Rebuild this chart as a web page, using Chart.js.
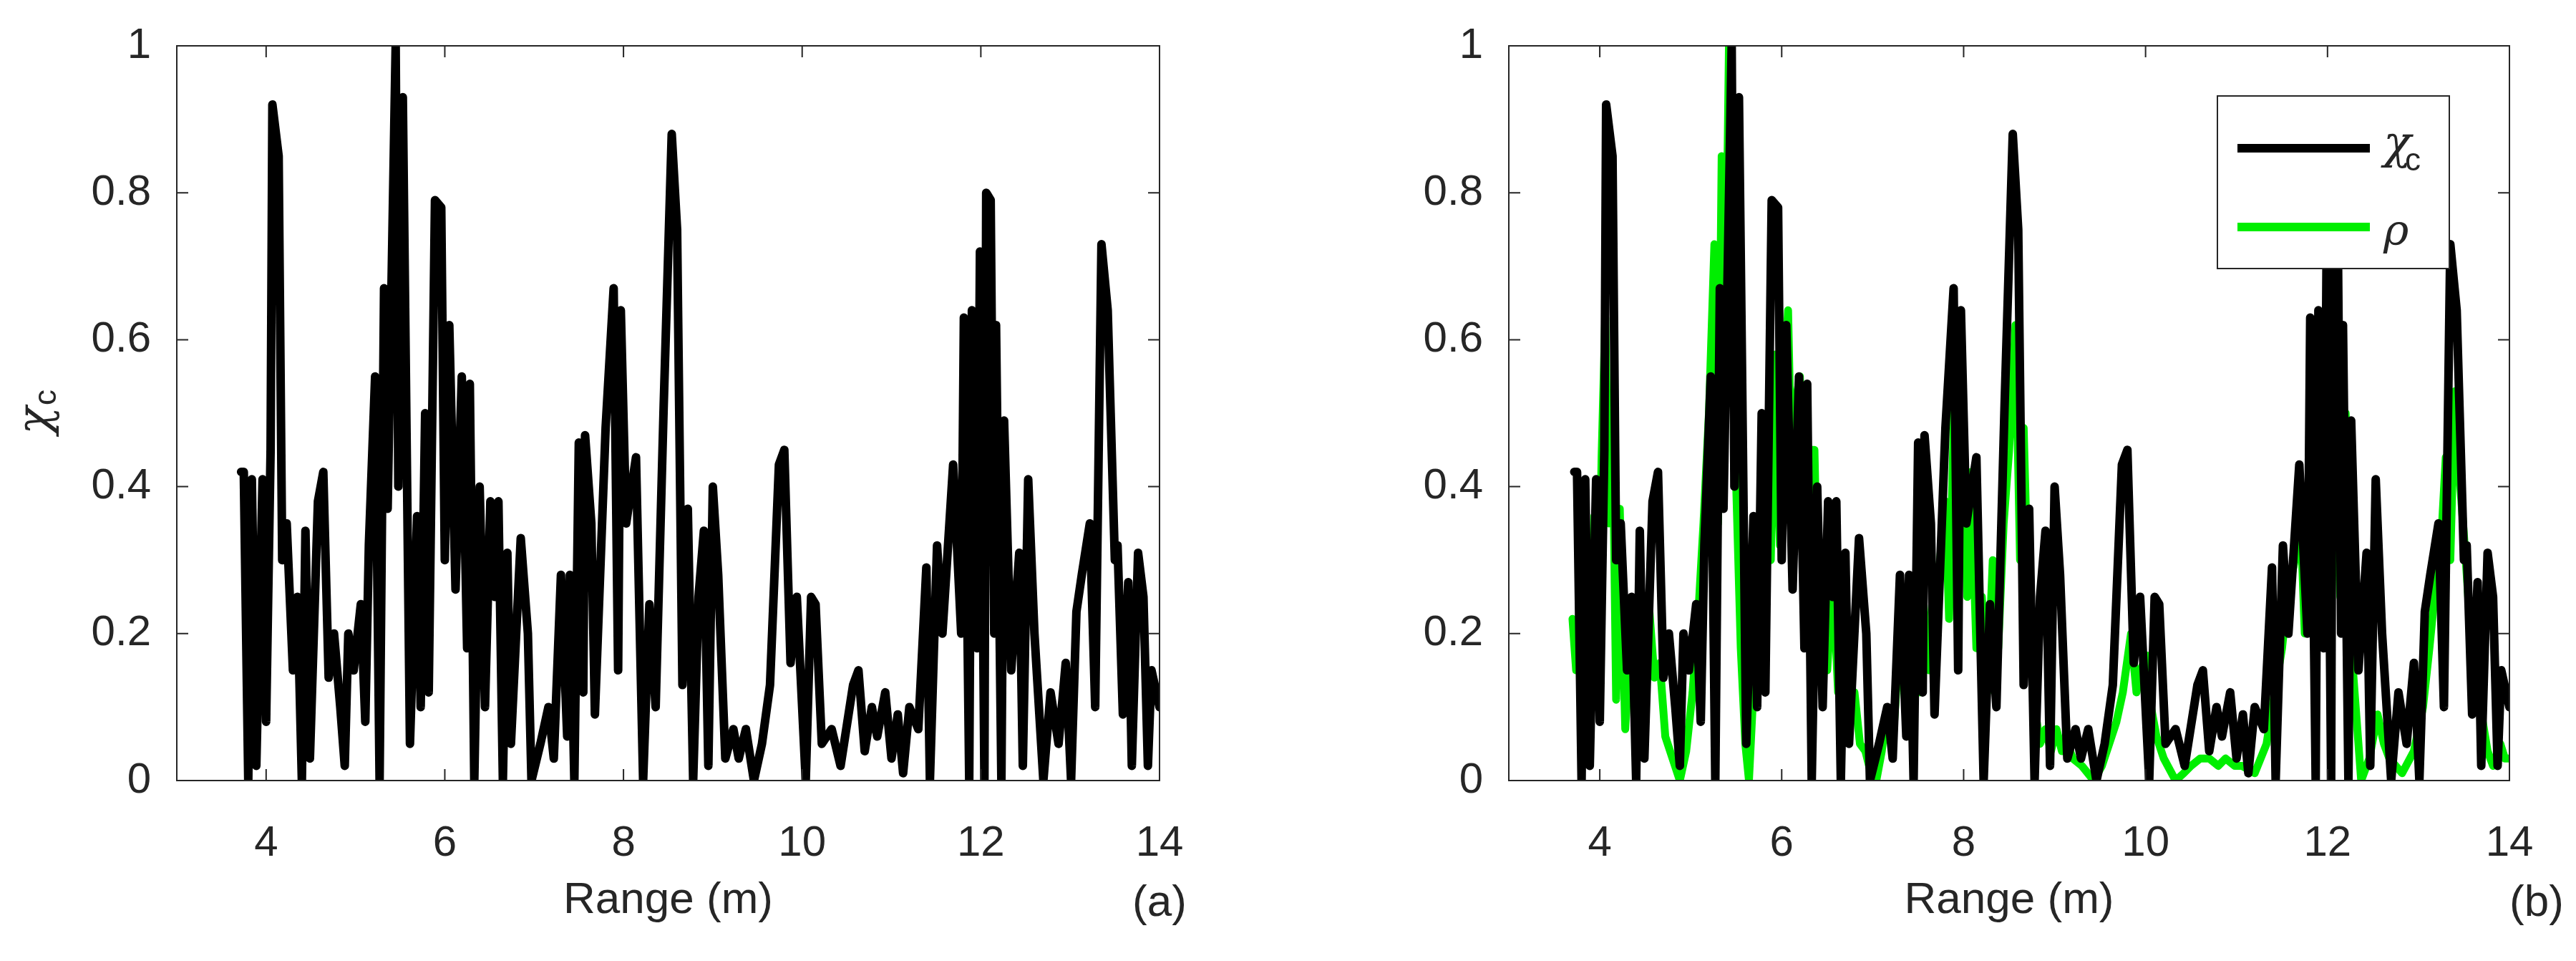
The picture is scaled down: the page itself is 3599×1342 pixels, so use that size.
<!DOCTYPE html>
<html>
<head>
<meta charset="utf-8">
<script src="https://cdn.jsdelivr.net/npm/chart.js@4.4.1/dist/chart.umd.min.js"></script>
<style>
  body { margin: 0; background: #fff; }
  .panel { position: absolute; top: 0; width: 1800px; height: 1342px; }
</style>
</head>
<body>
<div class="panel" style="left:0"><canvas id="chartA" width="1800" height="1342"></canvas></div>
<div class="panel" style="left:1800px"><canvas id="chartB" width="1799" height="1342"></canvas></div>
<script>
// chi_c (black) : range (m) and value
const rangeChi = [3.72,3.75,3.80,3.84,3.89,3.96,4.00,4.05,4.07,4.14,4.18,4.23,4.30,4.35,4.40,4.44,4.49,4.58,4.64,4.70,4.76,4.83,4.88,4.92,4.98,5.06,5.11,5.15,5.22,5.27,5.32,5.36,5.45,5.48,5.53,5.61,5.69,5.73,5.78,5.82,5.89,5.96,6.00,6.05,6.12,6.19,6.25,6.28,6.33,6.39,6.45,6.51,6.56,6.60,6.65,6.70,6.74,6.85,6.93,6.97,7.07,7.16,7.22,7.30,7.37,7.40,7.45,7.50,7.55,7.57,7.64,7.68,7.80,7.89,7.94,7.97,8.03,8.14,8.22,8.29,8.36,8.45,8.54,8.60,8.66,8.72,8.78,8.84,8.90,8.95,9.00,9.06,9.14,9.23,9.29,9.37,9.46,9.55,9.64,9.74,9.80,9.87,9.94,10.04,10.10,10.15,10.22,10.33,10.43,10.57,10.63,10.70,10.78,10.84,10.93,11.00,11.07,11.13,11.20,11.30,11.39,11.43,11.51,11.57,11.69,11.78,11.81,11.87,11.90,11.96,11.99,12.04,12.06,12.11,12.15,12.17,12.23,12.26,12.34,12.43,12.47,12.53,12.60,12.70,12.78,12.87,12.95,13.01,13.07,13.13,13.22,13.28,13.35,13.42,13.50,13.53,13.59,13.65,13.69,13.76,13.82,13.87,13.91,14.00];
const chiValues = [0.42,0.42,0.00,0.41,0.02,0.41,0.08,0.45,0.92,0.85,0.30,0.35,0.15,0.25,0.00,0.34,0.03,0.38,0.42,0.14,0.20,0.10,0.02,0.20,0.15,0.24,0.08,0.32,0.55,0.00,0.67,0.37,1.00,0.40,0.93,0.05,0.36,0.10,0.50,0.12,0.79,0.78,0.30,0.62,0.26,0.55,0.18,0.54,0.00,0.40,0.10,0.38,0.25,0.38,0.00,0.31,0.05,0.33,0.20,0.00,0.05,0.10,0.03,0.28,0.06,0.28,0.00,0.46,0.12,0.47,0.35,0.09,0.48,0.67,0.15,0.64,0.35,0.44,0.00,0.24,0.10,0.51,0.88,0.75,0.13,0.37,0.00,0.25,0.34,0.02,0.40,0.28,0.03,0.07,0.03,0.07,0.00,0.05,0.13,0.43,0.45,0.16,0.25,0.00,0.25,0.24,0.05,0.07,0.02,0.13,0.15,0.04,0.10,0.06,0.12,0.03,0.09,0.01,0.10,0.07,0.29,0.00,0.32,0.20,0.43,0.20,0.63,0.00,0.64,0.18,0.72,0.00,0.80,0.79,0.20,0.62,0.00,0.49,0.15,0.31,0.02,0.41,0.20,0.00,0.12,0.05,0.16,0.00,0.23,0.28,0.35,0.10,0.73,0.64,0.30,0.32,0.09,0.27,0.02,0.31,0.25,0.02,0.15,0.10];

// rho (green)
const rangeRho = [3.70,3.74,3.78,3.82,3.86,3.90,3.94,3.98,4.02,4.06,4.10,4.14,4.18,4.22,4.28,4.34,4.40,4.46,4.50,4.54,4.60,4.66,4.72,4.80,4.88,4.95,5.02,5.08,5.14,5.20,5.26,5.30,5.34,5.38,5.42,5.46,5.50,5.55,5.60,5.64,5.70,5.76,5.82,5.88,5.93,5.98,6.03,6.07,6.12,6.16,6.20,6.25,6.30,6.36,6.40,6.45,6.50,6.56,6.62,6.68,6.74,6.80,6.86,6.92,6.98,7.04,7.10,7.16,7.22,7.28,7.34,7.40,7.46,7.52,7.56,7.62,7.68,7.74,7.80,7.84,7.90,7.94,7.99,8.04,8.08,8.14,8.20,8.26,8.32,8.38,8.44,8.50,8.57,8.62,8.66,8.72,8.78,8.84,8.90,8.96,9.02,9.08,9.14,9.20,9.30,9.43,9.52,9.60,9.68,9.75,9.84,9.90,9.94,10.02,10.06,10.12,10.20,10.33,10.42,10.50,10.60,10.70,10.80,10.88,10.98,11.06,11.20,11.33,11.42,11.50,11.56,11.64,11.70,11.75,11.82,11.88,11.92,12.00,12.07,12.14,12.20,12.28,12.37,12.46,12.55,12.62,12.68,12.82,12.95,13.05,13.12,13.20,13.26,13.30,13.35,13.40,13.46,13.52,13.60,13.68,13.76,13.82,13.90,13.95,14.00];
const rhoValues = [0.22,0.15,0.24,0.12,0.26,0.10,0.36,0.15,0.44,0.63,0.35,0.50,0.11,0.37,0.07,0.20,0.10,0.21,0.08,0.24,0.14,0.16,0.06,0.03,0.00,0.04,0.12,0.22,0.35,0.50,0.73,0.35,0.85,0.60,1.00,0.80,0.40,0.18,0.05,0.00,0.15,0.32,0.45,0.30,0.58,0.32,0.55,0.64,0.35,0.52,0.55,0.30,0.45,0.45,0.22,0.32,0.15,0.28,0.12,0.20,0.08,0.12,0.05,0.04,0.01,0.00,0.04,0.10,0.05,0.16,0.20,0.10,0.22,0.12,0.24,0.15,0.22,0.30,0.38,0.22,0.53,0.32,0.50,0.25,0.42,0.18,0.25,0.12,0.30,0.18,0.35,0.45,0.62,0.30,0.48,0.20,0.10,0.05,0.07,0.04,0.07,0.04,0.05,0.03,0.02,0.00,0.02,0.05,0.08,0.12,0.20,0.12,0.15,0.17,0.10,0.06,0.03,0.00,0.01,0.02,0.03,0.03,0.02,0.03,0.02,0.02,0.01,0.05,0.12,0.18,0.25,0.30,0.37,0.20,0.40,0.18,0.25,0.30,0.49,0.25,0.50,0.15,0.00,0.03,0.09,0.05,0.03,0.01,0.04,0.10,0.18,0.28,0.35,0.44,0.30,0.53,0.40,0.30,0.15,0.10,0.04,0.02,0.05,0.03,0.03];

const xTicks = [4, 6, 8, 10, 12, 14];
const yTicks = [0, 0.2, 0.4, 0.6, 0.8, 1];

const textColor = "#262626";
const font = "Arial, 'Liberation Sans', sans-serif";

function pts(xs, ys) { return xs.map((x, i) => ({ x: x, y: ys[i] })); }

// MATLAB style box with inward ticks, axis titles and panel tag
function boxPlugin(tag, showYTitle, showLegend) {
  return {
    id: "box",
    afterDraw(chart) {
      const c = chart.ctx, a = chart.chartArea;
      const sx = chart.scales.x, sy = chart.scales.y;
      c.save();
      c.strokeStyle = "#262626";
      c.lineWidth = 2;
      c.strokeRect(a.left, a.top, a.right - a.left, a.bottom - a.top);
      const L = 16;
      c.beginPath();
      xTicks.forEach(v => {
        const p = sx.getPixelForValue(v);
        c.moveTo(p, a.bottom); c.lineTo(p, a.bottom - L);
        c.moveTo(p, a.top); c.lineTo(p, a.top + L);
      });
      yTicks.forEach(v => {
        const p = sy.getPixelForValue(v);
        c.moveTo(a.left, p); c.lineTo(a.left + L, p);
        c.moveTo(a.right, p); c.lineTo(a.right - L, p);
      });
      c.stroke();

      c.fillStyle = textColor;
      c.font = "62px " + font;
      c.textAlign = "center";
      c.textBaseline = "middle";
      c.fillText("Range (m)", (a.left + a.right) / 2, 1258);
      c.fillText(tag, chart.width - (showLegend ? 55 : 180), 1262);

      if (showYTitle) {
        c.save();
        c.translate(52, (a.top + a.bottom) / 2);
        c.rotate(-Math.PI / 2);
        c.font = "italic 64px 'DejaVu Serif', serif";
        c.fillText("\u03c7", -10, 0);
        c.font = "44px " + font;
        c.fillText("c", 22, 14);
        c.restore();
      }

      if (showLegend) {
        const lx = 1298, ly = 134, lw = 324, lh = 241;
        c.fillStyle = "#fff";
        c.fillRect(lx, ly, lw, lh);
        c.strokeRect(lx, ly, lw, lh);
        c.lineWidth = 12;
        c.strokeStyle = "#000";
        c.beginPath(); c.moveTo(lx + 28, ly + 73); c.lineTo(lx + 213, ly + 73); c.stroke();
        c.strokeStyle = "#00ee00";
        c.beginPath(); c.moveTo(lx + 28, ly + 183); c.lineTo(lx + 213, ly + 183); c.stroke();
        c.fillStyle = textColor;
        c.textAlign = "left";
        c.font = "italic 64px 'DejaVu Serif', serif";
        c.fillText("\u03c7", lx + 232, ly + 70);
        c.font = "44px " + font;
        c.fillText("c", lx + 262, ly + 92);
        c.font = "italic 60px 'DejaVu Serif', serif";
        c.fillText("\u03c1", lx + 232, ly + 192);
      }
      c.restore();
    }
  };
}

function makeChart(id, datasets, leftW, rightPad, tag, showYTitle, showLegend) {
  new Chart(document.getElementById(id), {
    type: "line",
    data: { datasets: datasets },
    options: {
      responsive: false,
      animation: false,
      layout: { padding: { top: 51, right: rightPad, left: 0, bottom: 0 } },
      plugins: { legend: { display: false }, tooltip: { enabled: false } },
      elements: { point: { radius: 0 }, line: { tension: 0, borderJoinStyle: "round", borderCapStyle: "round" } },
      scales: {
        x: {
          type: "linear", min: 3, max: 14,
          afterBuildTicks: s => { s.ticks = xTicks.map(v => ({ value: v })); },
          afterFit: s => { s.height = 1342 - 1090; },
          grid: { display: false }, border: { display: false },
          ticks: { color: textColor, font: { size: 60, family: font }, padding: 44, maxRotation: 0 }
        },
        y: {
          min: 0, max: 1,
          afterBuildTicks: s => { s.ticks = yTicks.map(v => ({ value: v })); },
          afterFit: s => { s.width = leftW; },
          grid: { display: false }, border: { display: false },
          ticks: { color: textColor, font: { size: 60, family: font }, padding: 28, callback: v => String(+v.toFixed(1)) }
        }
      }
    },
    plugins: [boxPlugin(tag, showYTitle, showLegend)]
  });
}

makeChart("chartA", [
  { data: pts(rangeChi, chiValues), borderColor: "#000", borderWidth: 12 }
], 247, 180, "(a)", true, false);
makeChart("chartB", [
  { data: pts(rangeChi, chiValues), borderColor: "#000", borderWidth: 12 },
  { data: pts(rangeRho, rhoValues), borderColor: "#00ee00", borderWidth: 11 }
], 308, 93, "(b)", false, true);
</script>
</body>
</html>
